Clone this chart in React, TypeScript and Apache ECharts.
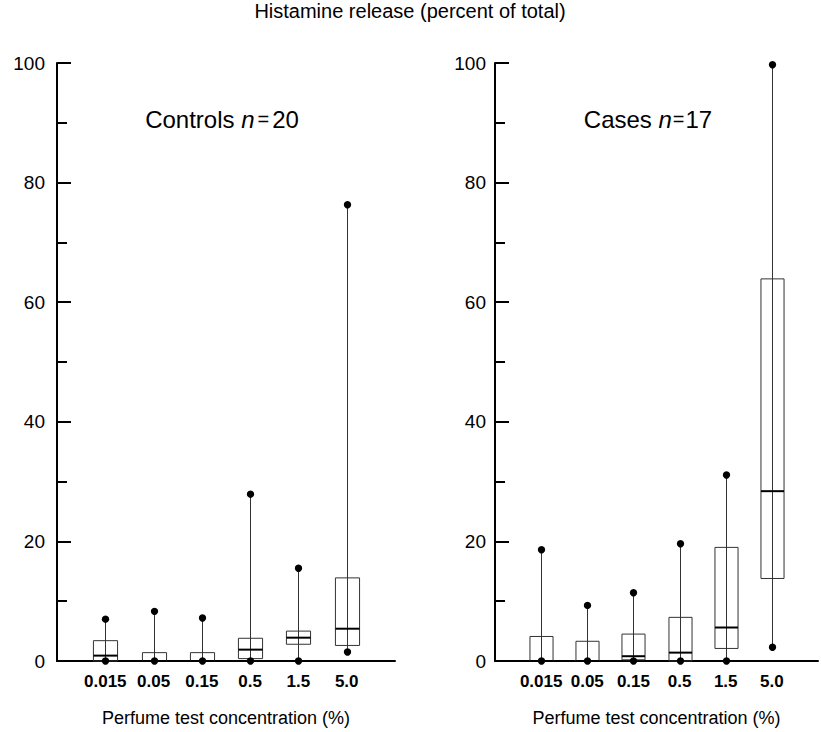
import React, { useEffect, useRef } from "react";
import * as echarts from "echarts";

const categories = ["0.015", "0.05", "0.15", "0.5", "1.5", "5.0"];
const yTicks = [0, 20, 40, 60, 80, 100];

const controlsMin = [0, 0, 0, 0, 0, 1.5];
const controlsQ1 = [0, 0, 0, 0.4, 2.8, 2.6];
const controlsMedian = [0.9, 0, 0, 1.9, 3.9, 5.4];
const controlsQ3 = [3.4, 1.4, 1.4, 3.8, 5.0, 13.9];
const controlsMax = [7.0, 8.3, 7.2, 27.9, 15.5, 76.3];

const casesMin = [0, 0, 0, 0, 0, 2.3];
const casesQ1 = [0, 0, 0.2, 0, 2.1, 13.8];
const casesMedian = [0, 0, 0.8, 1.4, 5.6, 28.4];
const casesQ3 = [4.1, 3.3, 4.5, 7.3, 19.0, 63.9];
const casesMax = [18.6, 9.3, 11.4, 19.6, 31.1, 99.7];

const FONT = "'Liberation Sans', Arial, Helvetica, sans-serif";

function buildRows(mn: number[], q1: number[], md: number[], q3: number[], mx: number[]) {
  return categories.map((_, i) => [i + 1, mn[i], q1[i], md[i], q3[i], mx[i]]);
}

function renderBox(params: any, api: any) {
  const x = api.value(0);
  const pMin = api.coord([x, api.value(1)]);
  const pQ1 = api.coord([x, api.value(2)]);
  const pMed = api.coord([x, api.value(3)]);
  const pQ3 = api.coord([x, api.value(4)]);
  const pMax = api.coord([x, api.value(5)]);
  const halfW = api.size([1, 0])[0] * 0.25;
  const cx = Math.round(pMin[0]) + 0.5;
  return {
    type: "group",
    children: [
      {
        type: "line",
        shape: { x1: cx, y1: pMin[1], x2: cx, y2: pMax[1] },
        style: { stroke: "#333", lineWidth: 1 },
      },
      {
        type: "rect",
        shape: { x: cx - halfW, y: pQ3[1], width: halfW * 2, height: pQ1[1] - pQ3[1] },
        style: { fill: "none", stroke: "#333", lineWidth: 1 },
      },
      {
        type: "line",
        shape: { x1: cx - halfW, y1: pMed[1], x2: cx + halfW, y2: pMed[1] },
        style: { stroke: "#000", lineWidth: 2 },
      },
      {
        type: "circle",
        shape: { cx: cx, cy: pMin[1], r: 3.7 },
        style: { fill: "#000" },
      },
      {
        type: "circle",
        shape: { cx: cx, cy: pMax[1], r: 3.7 },
        style: { fill: "#000" },
      },
    ],
  };
}

export default function App() {
  const ref = useRef<HTMLDivElement>(null);
  useEffect(() => {
    if (!ref.current) return;
    const chart = echarts.init(ref.current, null, { renderer: "svg" });
    const xCats = ["", ...categories, ""];
    const mkX = (gridIndex: number) => ({
      type: "category",
      gridIndex,
      data: xCats,
      boundaryGap: false,
      axisLine: { show: true, lineStyle: { color: "#000", width: 2 } },
      axisTick: { show: false },
      axisLabel: {
        interval: 0,
        margin: 12,
        color: "#000",
        fontFamily: FONT,
        fontWeight: "bold",
        fontSize: 17,
      },
      splitLine: { show: false },
      name: "Perfume test concentration (%)",
      nameLocation: "middle",
      nameGap: 48,
      nameTextStyle: { color: "#000", fontFamily: FONT, fontSize: 18 },
    });
    const mkY = (gridIndex: number, margin: number) => ({
      type: "value",
      gridIndex,
      min: 0,
      max: 100,
      interval: 20,
      axisLine: { show: true, lineStyle: { color: "#000", width: 2 } },
      axisTick: { show: true, inside: true, length: 14, lineStyle: { color: "#000", width: 2 } },
      minorTick: { show: true, splitNumber: 2, length: 10, lineStyle: { color: "#000", width: 2 } },
      axisLabel: {
        margin,
        color: "#000",
        fontFamily: FONT,
        fontSize: 19,
        formatter: (v: number) => (yTicks.includes(v) ? String(v) : ""),
      },
      splitLine: { show: false },
    });
    chart.setOption({
      animation: false,
      backgroundColor: "#fff",
      grid: [
        { left: 57, top: 63, width: 338, height: 602 },
        { left: 495, top: 63, width: 338, height: 602 },
      ],
      xAxis: [mkX(0), mkX(1)],
      yAxis: [mkY(0, 12), mkY(1, 9)],
      graphic: [
        {
          type: "text",
          x: 410,
          y: 11,
          style: {
            text: "Histamine release (percent of total)",
            fontFamily: FONT,
            fontSize: 20,
            fill: "#000",
            align: "center",
            verticalAlign: "middle",
          },
        },
        {
          type: "text",
          x: 222,
          y: 119,
          style: {
            text: "{a|Controls }{i|n}{e|=}{a|20}",
            align: "center",
            verticalAlign: "middle",
            rich: {
              a: { fontFamily: FONT, fontSize: 24, fill: "#000" },
              i: { fontFamily: FONT, fontSize: 24, fontStyle: "italic", fill: "#000" },
              e: { fontFamily: FONT, fontSize: 20, fill: "#000", padding: [0, 3, 0, 3] },
            },
          },
        },
        {
          type: "text",
          x: 648,
          y: 119,
          style: {
            text: "{a|Cases }{i|n}{e|=}{a|17}",
            align: "center",
            verticalAlign: "middle",
            rich: {
              a: { fontFamily: FONT, fontSize: 24, fill: "#000" },
              i: { fontFamily: FONT, fontSize: 24, fontStyle: "italic", fill: "#000" },
              e: { fontFamily: FONT, fontSize: 20, fill: "#000", padding: [0, 1, 0, 1] },
            },
          },
        },
      ],
      series: [
        {
          name: "Controls",
          type: "custom",
          xAxisIndex: 0,
          yAxisIndex: 0,
          renderItem: renderBox,
          encode: { x: 0, y: [1, 2, 3, 4, 5] },
          data: buildRows(controlsMin, controlsQ1, controlsMedian, controlsQ3, controlsMax),
          clip: false,
          z: 3,
        },
        {
          name: "Cases",
          type: "custom",
          xAxisIndex: 1,
          yAxisIndex: 1,
          renderItem: renderBox,
          encode: { x: 0, y: [1, 2, 3, 4, 5] },
          data: buildRows(casesMin, casesQ1, casesMedian, casesQ3, casesMax),
          clip: false,
          z: 3,
        },
      ],
    });
    return () => chart.dispose();
  }, []);
  return (
    <div
      ref={ref}
      style={{ position: "fixed", left: 0, top: 0, width: 821, height: 732, background: "#fff" }}
    />
  );
}
